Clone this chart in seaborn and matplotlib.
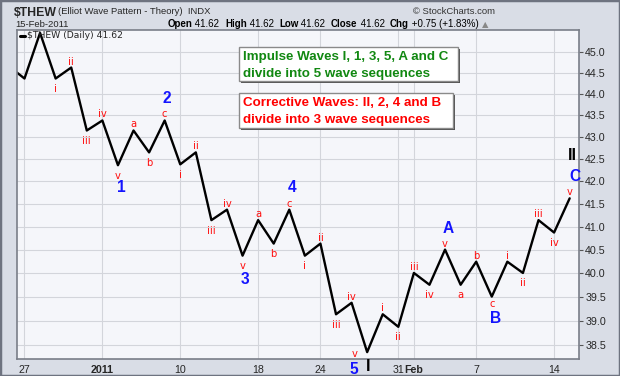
import numpy as np
import pandas as pd
import matplotlib
matplotlib.use('Agg')
import matplotlib.pyplot as plt
import seaborn as sns
from matplotlib import font_manager
from matplotlib.patches import Rectangle
from matplotlib.ticker import FixedLocator, FixedFormatter, NullLocator

# trading days shown (Dec 23 is only partly visible at the left edge)
dates = ['2010-12-23', '2010-12-27', '2010-12-28', '2010-12-29', '2010-12-30', '2010-12-31',
         '2011-01-03', '2011-01-04', '2011-01-05', '2011-01-06', '2011-01-07',
         '2011-01-10', '2011-01-11', '2011-01-12', '2011-01-13', '2011-01-14',
         '2011-01-18', '2011-01-19', '2011-01-20', '2011-01-21',
         '2011-01-24', '2011-01-25', '2011-01-26', '2011-01-27', '2011-01-28',
         '2011-01-31', '2011-02-01', '2011-02-02', '2011-02-03', '2011-02-04',
         '2011-02-07', '2011-02-08', '2011-02-09', '2011-02-10', '2011-02-11',
         '2011-02-14', '2011-02-15']
closes = [44.65, 44.36, 45.45, 44.36, 44.62, 43.15,
          43.38, 42.36, 43.15, 42.65, 43.38,
          42.38, 42.65, 41.14, 41.37, 40.37,
          41.14, 40.63, 41.37, 40.37,
          40.63, 39.13, 39.37, 38.35, 39.13,
          38.87, 40.00, 39.75, 40.50, 39.75,
          40.24, 39.50, 40.24, 40.00, 41.14,
          40.87, 41.62]
minor_waves = ['', '', '', 'i', 'ii', 'iii',
               'iv', 'v', 'a', 'b', 'c',
               'i', 'ii', 'iii', 'iv', 'v',
               'a', 'b', 'c', 'i',
               'ii', 'iii', 'iv', 'v', 'i',
               'ii', 'iii', 'iv', 'v', 'a',
               'b', 'c', 'i', 'ii', 'iii',
               'iv', 'v']
major_waves = {'2011-01-04': '1', '2011-01-07': '2', '2011-01-14': '3', '2011-01-20': '4',
               '2011-01-27': '5', '2011-02-03': 'A', '2011-02-08': 'B', '2011-02-15': 'C'}
cycle_waves = {'2011-01-27': 'I', '2011-02-15': 'II'}
tick_dates = ['2010-12-27', '2011-01-03', '2011-01-10', '2011-01-18', '2011-01-24',
              '2011-01-31', '2011-02-01', '2011-02-07', '2011-02-14']
tick_labels = ['27', '2011', '10', '18', '24', '31', 'Feb', '7', '14']
bold_ticks = ['2011', 'Feb']
price_ticks = [38.5, 39.0, 39.5, 40.0, 40.5, 41.0, 41.5, 42.0, 42.5, 43.0, 43.5, 44.0, 44.5, 45.0]

impulse_text = ['Impulse Waves I, 1, 3, 5, A and C', 'divide into 5 wave sequences']
corrective_text = ['Corrective Waves: II, 2, 4 and B', 'divide into 3 wave sequences']

# label offsets in pixels (dx, dy), styling only
major_offsets = {'1': (3, -22), '2': (2, 22), '3': (2, -24), '4': (3, 22),
                 '5': (-13, -17), 'A': (3, 21), 'B': (4, -22), 'C': (5, 22)}
cycle_offsets = {'I': (1, -14), 'II': (3, 43)}
minor_tweaks = {'2011-01-27': (-13, -5), '2011-02-08': (0, -10.5)}

FIG_BG = '#d9dde6'
PLOT_BG = '#f5f6fa'
GRID = '#d3d5db'
W, H = 620, 376

sns.set_theme(style='white')
plt.rcParams['font.family'] = ['Liberation Sans', 'DejaVu Sans']
installed = {f.name for f in font_manager.fontManager.ttflist}
NARROW = 'Liberation Sans Narrow' if 'Liberation Sans Narrow' in installed else 'Liberation Sans'

df = pd.DataFrame({'date': dates, 'close': closes, 'minor': minor_waves})
df['pos'] = np.arange(len(df))
pos_of = dict(zip(df['date'], df['pos']))
close_of = dict(zip(df['date'], df['close']))

fig = plt.figure(figsize=(6.2, 3.76), dpi=100, facecolor=FIG_BG)
renderer = fig.canvas.get_renderer()
ax = fig.add_axes([16.7 / W, (H - 359) / H, (579 - 16.7) / W, (359 - 30) / H])
ax.set_facecolor(PLOT_BG)

sns.lineplot(data=df, x='pos', y='close', color='black', linewidth=1.7, ax=ax)

ax.set_yscale('log')
ax.set_ylim(38.21, 45.52)
ax.set_xlim(0.5, 36.6)
ax.yaxis.set_major_locator(FixedLocator(price_ticks))
ax.yaxis.set_major_formatter(FixedFormatter(['%.1f' % v for v in price_ticks]))
ax.yaxis.set_minor_locator(NullLocator())
ax.yaxis.tick_right()
ax.set_xticks([pos_of[d] for d in tick_dates])
ax.set_xticklabels(tick_labels)
ax.set_xticks(df['pos'][1:], minor=True)
for lbl in ax.get_xticklabels():
    if lbl.get_text() in bold_ticks:
        lbl.set_fontweight('bold')
ax.tick_params(axis='both', which='major', labelsize=7.7, length=3, width=0.8,
               color='#555555', pad=1.5)
ax.tick_params(axis='x', which='minor', length=2, width=0.6, color='#777777')
ax.set_xlabel('')
ax.set_ylabel('')
ax.grid(True, which='major', color=GRID, linewidth=0.8)
for side in ['left', 'bottom', 'right', 'top']:
    ax.spines[side].set_color('#7a7e88')
    ax.spines[side].set_linewidth(1.2)

# minor wave labels (red)
vals = df['close'].values
for i, row in df.iterrows():
    if not row['minor']:
        continue
    prev_v = vals[i - 1] if i > 0 else -np.inf
    next_v = vals[i + 1] if i + 1 < len(vals) else -np.inf
    peak = row['close'] > prev_v and row['close'] > next_v
    dx, dy = minor_tweaks.get(row['date'], (0, 3 if peak else -13.5))
    ax.annotate(row['minor'], xy=(row['pos'], row['close']), xytext=(dx, dy),
                textcoords='offset pixels', ha='center', va='baseline',
                color='#ff1010', fontsize=7.2, family='DejaVu Sans',
                annotation_clip=False)

# intermediate waves (blue)
for d, txt in major_waves.items():
    dx, dy = major_offsets[txt]
    ax.annotate(txt, xy=(pos_of[d], close_of[d]), xytext=(dx, dy),
                textcoords='offset pixels', ha='center', va='center',
                color='#1414ff', fontsize=11.2, fontweight='bold',
                annotation_clip=False)

# primary waves (black)
for d, txt in cycle_waves.items():
    dx, dy = cycle_offsets[txt]
    ax.annotate(txt, xy=(pos_of[d], close_of[d]), xytext=(dx, dy),
                textcoords='offset pixels', ha='center', va='center',
                color='black', fontsize=11.5, fontweight='bold',
                annotation_clip=False)

# legend line
ax.plot([0.006, 0.014], [0.982, 0.982], transform=ax.transAxes, color='black', lw=2.2)
ax.text(0.018, 0.982, '$THEW (Daily) 41.62', transform=ax.transAxes, fontsize=6.7,
        family='DejaVu Sans', va='center', ha='left')


def fit_text(x, y, s, width, size, min_size=0, **kw):
    # place text at pixel coords and scale its size so it spans the given width
    t = fig.text(x / W, (H - y) / H, s, fontsize=size, **kw)
    w = t.get_window_extent(renderer).width
    t.set_fontsize(max(min_size, size * width / w))
    return t


def px_box(x0, y0, x1, y1, lines, color, width):
    fig.add_artist(Rectangle(((x0 + 2) / W, (H - y1 - 2) / H), (x1 - x0) / W, (y1 - y0) / H,
                             transform=fig.transFigure, facecolor='#505050', edgecolor='none'))
    fig.add_artist(Rectangle((x0 / W, (H - y1) / H), (x1 - x0) / W, (y1 - y0) / H,
                             transform=fig.transFigure, facecolor='white',
                             edgecolor='#8a8a8a', linewidth=1.0))
    t = fit_text(x0 + 4, y0 + 13, lines[0], width, 9.5, color=color, fontweight='bold',
                 va='baseline')
    fig.text((x0 + 4) / W, (H - y0 - 29.5) / H, lines[1], color=color,
             fontsize=t.get_fontsize(), fontweight='bold', va='baseline')


px_box(239, 47, 458, 81, impulse_text, '#118811', 206)
px_box(239, 93, 453, 128, corrective_text, '#ff0000', 199)

# header
fit_text(14, 15.5, '$THEW', 37, 9.5, min_size=8.8, fontweight='bold', va='baseline',
         family=NARROW)
fit_text(58, 14, '(Elliot Wave Pattern - Theory)  INDX', 139, 7.2, min_size=6.8,
         va='baseline', family=NARROW)
fit_text(413, 14, '\u00a9 StockCharts.com', 75, 7.2, min_size=6.8, va='baseline',
         color='#333333', family=NARROW)
fit_text(15, 27, '15-Feb-2011', 48, 7.2, min_size=6.8, va='baseline', family=NARROW)

segments = [('Open', True), (' 41.62  ', False), ('High', True), (' 41.62  ', False),
            ('Low', True), (' 41.62  ', False), ('Close', True), (' 41.62  ', False),
            ('Chg', True), (' +0.75 (+1.83%) ', False), ('\u25b2', False)]
texts = []
x = 0
for s, b in segments:
    fam = ['DejaVu Sans'] if s == '\u25b2' else [NARROW, 'DejaVu Sans']
    t = fig.text(0, (H - 27) / H, s, fontsize=7.5, fontweight='bold' if b else 'normal',
                 va='baseline', family=fam, color='#888888' if s == '\u25b2' else 'black')
    texts.append(t)
    x += t.get_window_extent(renderer).width
size = max(7.0, 7.5 * 303 / x)
for t in texts:
    t.set_fontsize(size if t.get_text() != '\u25b2' else 6)
total = sum(t.get_window_extent(renderer).width for t in texts)
x = 488 - total
for t in texts:
    t.set_x(x / W)
    x += t.get_window_extent(renderer).width

fig.add_artist(Rectangle((0, 0), 1, 1, transform=fig.transFigure, fill=False,
                         edgecolor='#6e7380', linewidth=2.5))

fig.savefig('out.png', dpi=100, facecolor=FIG_BG)
